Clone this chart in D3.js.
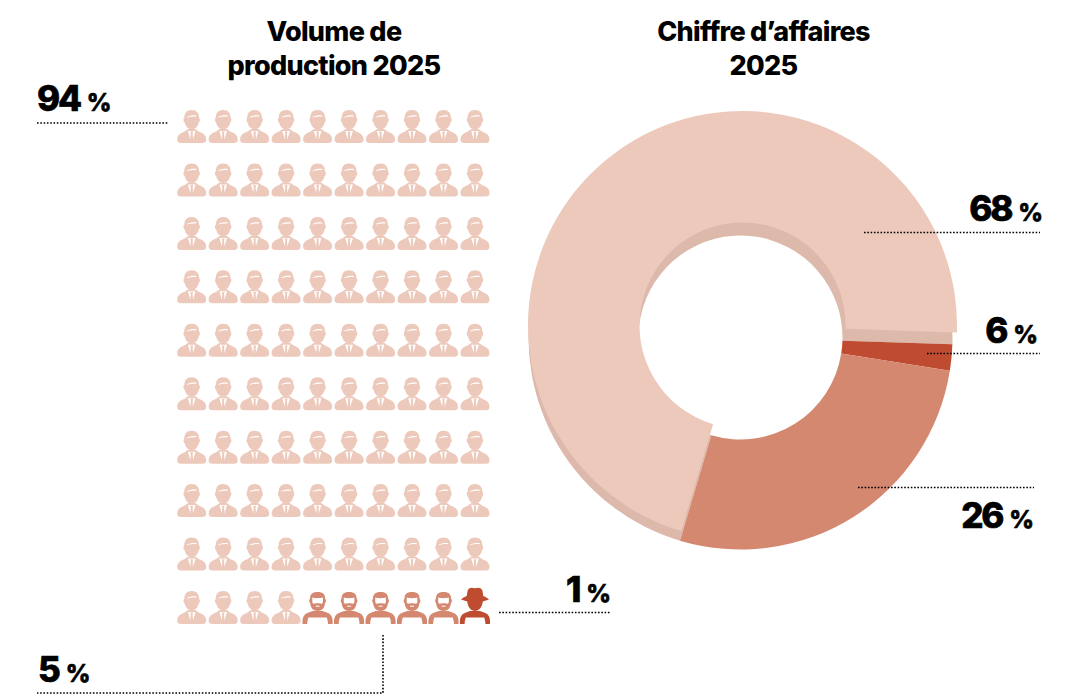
<!DOCTYPE html>
<html><head><meta charset="utf-8">
<script src="https://cdn.jsdelivr.net/npm/d3@7"></script>
<style>html,body{margin:0;padding:0;background:#fff}svg{display:block}
text{font-family:Inter,sans-serif;font-weight:800;fill:#000}</style></head>
<body><svg id="c" width="1066" height="697"></svg>
<script>
// Data
const volumeCounts = [94, 5, 1];
const volumeKinds = ["man", "beard", "hat"];
const revenueDrawn = [70.9, 2, 27.1];   // shares as drawn on the ring
const titleLeft = ["Volume de", "production 2025"];
const titleRight = ["Chiffre d’affaires", "2025"];
const labelValues = ["94", "5", "1", "68", "6", "26"];

const light = "#ecc9bb", mid = "#d48870", dark = "#bf4c30", shade = "#dcb9ab";
const svg = d3.select("#c");

// Titles
function title(lines, cx){
  svg.append("g").selectAll("text").data(lines).join("text")
    .attr("x",cx).attr("y",(d,i)=>41+i*34).attr("text-anchor","middle")
    .attr("font-size",27).attr("letter-spacing",-0.7).text(d=>d);
}
title(titleLeft,334); title(titleRight,763.5);

// Pictogram
const people = volumeKinds.flatMap((k,i)=>d3.range(volumeCounts[i]).map(()=>k));
const xIcon = d3.scalePoint().domain(d3.range(10)).range([191.7,475]);
const yIcon = d3.scalePoint().domain(d3.range(10)).range([110,591]);
const colour = d3.scaleOrdinal().domain(volumeKinds).range([light,mid,dark]);
const shapes = {
 shoulders:"M-14.5 30 C-14.5 25 -12 23.5 -7 21.5 L-3.6 19 L3.6 19 L7 21.5 C12 23.5 14.5 25 14.5 30 C14.5 32 13 33 11 33 L-11 33 C-13 33 -14.5 32 -14.5 30Z",
 head:"M0 0 C5 0 7.4 3 7.4 8 C8.6 8.5 8.4 11.8 7 12.6 C6.2 16.5 3.5 19.5 0 19.5 C-3.5 19.5 -6.2 16.5 -7 12.6 C-8.4 11.8 -8.6 8.5 -7.4 8 C-7.4 3 -5 0 0 0Z",
 hair:"M-4.8 7 C-2 5.4 2 5 4.8 5.6 C4.8 6.4 4.6 6.6 4.2 6.6 C2 6.4 -2 6.8 -4.2 7.6 C-4.6 7.6 -4.8 7.4 -4.8 7Z",
 collar:"M-3.8 21 L3.8 21 L1.4 29 L-1.4 29Z",
 tie:"M-1.4 21.6 L1.4 21.6 L0.9 24 L1.3 28 L0 33 L-1.3 28 L-0.9 24Z",
 farmerBody:"M-15 35 C-15.5 29 -14 25 -9 23.5 L-5 22 L5 22 L9 23.5 C14 25 15.5 29 15 35 L10.4 35 C10.4 33 10 31 9.2 28.4 L-9.2 28.4 C-10 31 -10.4 33 -10.4 35Z",
 beardHead:"M0 3 C5.5 3 7.6 5.5 7.6 10 C8.8 10.5 8.6 13.5 7.4 14 C7.2 19 4 22 0 22 C-4 22 -7.2 19 -7.4 14 C-8.6 13.5 -8.8 10.5 -7.6 10 C-7.6 5.5 -5.5 3 0 3Z",
 face:"M-5.3 8.6 C-3 9.4 3 9.4 5.3 8.6 L5.3 13 C5 14.6 4 15 2.6 14.6 C1.6 14.2 -1.6 14.2 -2.6 14.6 C-4 15 -5 14.6 -5.3 13Z",
 hat:"M-7.5 2 C-6.5 -2 -3 -1.6 0 -0.8 C3 -1.6 6.5 -2 7.5 2 L8.3 7 C10.5 7.8 12.5 9 14 10.6 L7.8 12.6 C7 18.4 4 22 0 22 C-4 22 -7 18.4 -7.8 12.6 L-14 10.6 C-12.5 9 -10.5 7.8 -8.3 7Z"
};
const icons = svg.append("g").selectAll("g").data(people).join("g")
  .attr("transform",(d,i)=>`translate(${xIcon(i%10)},${yIcon(Math.floor(i/10))+(d==="man"?0:-2)})`);
icons.each(function(kind){
  const g = d3.select(this), c = colour(kind);
  if(kind==="man"){
    g.append("path").attr("d",shapes.shoulders).attr("fill",c);
    g.append("path").attr("d",shapes.head).attr("fill",c);
    g.append("path").attr("d",shapes.hair).attr("fill","#fff");
    g.append("path").attr("d",shapes.collar).attr("fill","#fff");
    g.append("path").attr("d",shapes.tie).attr("fill",c);
  } else {
    g.append("path").attr("d",shapes.farmerBody).attr("fill",c);
    if(kind==="beard"){
      g.append("path").attr("d",shapes.beardHead).attr("fill",c);
      g.append("path").attr("d",shapes.face).attr("fill","#fff");
      g.append("path").attr("d","M-2 17.2 L2 17.2").attr("stroke","#fff").attr("stroke-width",1);
    } else {
      g.append("path").attr("d",shapes.hat).attr("fill",c);
    }
  }
});

// Donut
const pie = d3.pie().sort(null).startAngle(196.6*Math.PI/180).endAngle((196.6+360)*Math.PI/180);
const arcs = pie(revenueDrawn);
const arcLow = d3.arc().innerRadius(102).outerRadius(212);
const arcHigh = d3.arc().innerRadius(103).outerRadius(214.5);
const ringCols = [shade, dark, mid];
svg.append("g").attr("transform","translate(740.5,337.5)")
  .selectAll("path").data(arcs).join("path").attr("d",arcLow).attr("fill",(d,i)=>ringCols[i]);
svg.append("g").attr("transform","translate(742.5,325.5)")
  .append("path").datum(arcs[0]).attr("d",arcHigh).attr("fill",light);

// Leader lines
const leaders = [
 [[37,123],[168,123]],
 [[864,232.5],[1040,232.5]],
 [[927,353.5],[1040,353.5]],
 [[858,487.5],[1034,487.5]],
 [[499,612.5],[611,612.5]],
 [[383,635],[383,693],[37,693]]
];
svg.append("g").selectAll("path").data(leaders).join("path")
  .attr("d",d3.line()).attr("stroke","#000").attr("stroke-width",1.6)
  .attr("stroke-dasharray","1.6 1.7").attr("fill","none");

// Value labels
const labelPos = [[37,111,"start"],[38,682,"start"],[611,602,"end"],[1043,221,"end"],[1038,343,"end"],[1034,528,"end"]];
const lab = svg.append("g").selectAll("text").data(labelValues).join("text")
  .attr("x",(d,i)=>labelPos[i][0]).attr("y",(d,i)=>labelPos[i][1]).attr("text-anchor",(d,i)=>labelPos[i][2])
  .attr("stroke","#000").attr("stroke-width",0.6);
lab.append("tspan").attr("font-size",35).attr("letter-spacing",-2.2).text(d=>d);
lab.append("tspan").attr("font-size",24).attr("dx",7).text("%");
</script></body></html>
